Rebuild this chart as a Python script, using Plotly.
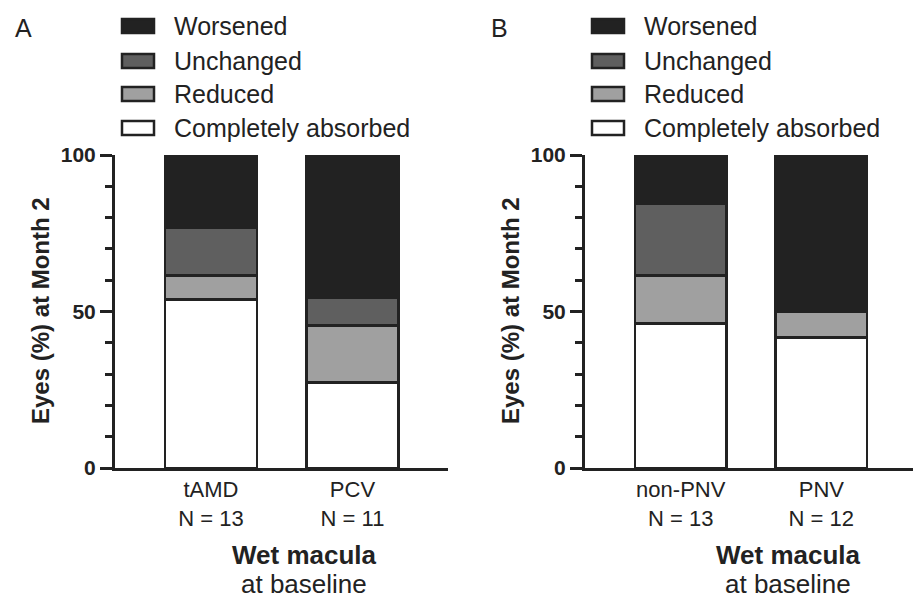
import plotly.graph_objects as go

# ---- data ----
series_names = ["Completely absorbed", "Reduced", "Unchanged", "Worsened"]
series_colors = ["#ffffff", "#a0a0a0", "#5f5f5f", "#222222"]

cats_a = ["tAMD<br>N = 13", "PCV<br>N = 11"]
absorbed_a = [53.8, 27.3]
reduced_a = [7.7, 18.2]
unchanged_a = [15.4, 9.1]
worsened_a = [23.1, 45.4]

cats_b = ["non-PNV<br>N = 13", "PNV<br>N = 12"]
absorbed_b = [46.2, 41.7]
reduced_b = [15.4, 8.3]
unchanged_b = [23.0, 0.0]
worsened_b = [15.4, 50.0]

y_ticks = [0, 50, 100]

W, H = 914, 606
def px(x):
    return x / W
def py(y):
    return 1 - y / H

FONT = "Liberation Sans, Arial, sans-serif"
INK = "#222222"

fig = go.Figure()

panels = [
    ("x", "y", [absorbed_a, reduced_a, unchanged_a, worsened_a]),
    ("x2", "y2", [absorbed_b, reduced_b, unchanged_b, worsened_b]),
]
for xa, ya, vals in panels:
    for name, color, v in zip(series_names, series_colors, vals):
        fig.add_trace(go.Bar(
            x=[0, 1], y=v, name=name, xaxis=xa, yaxis=ya,
            width=0.65, marker=dict(color=color, line=dict(color=INK, width=2.8)),
            showlegend=False,
        ))

ydom = [py(468), py(155)]
common_y = dict(range=[0, 100], tickvals=y_ticks, ticks="outside", ticklen=12,
                tickwidth=2.5, tickcolor=INK, showline=True, linewidth=3,
                linecolor=INK, showgrid=False, zeroline=False, automargin=False,
                tickfont=dict(family=FONT, size=21, color=INK, weight="bold"),
                minor=dict(dtick=10, ticks="outside", ticklen=7, tickwidth=2.5,
                           tickcolor=INK, showgrid=False),
                domain=ydom, fixedrange=True)
common_x = dict(showline=True, linewidth=3, linecolor=INK, ticks="",
                showgrid=False, zeroline=False, tickvals=[0, 1], automargin=False,
                tickfont=dict(family=FONT, size=22, color=INK))

fig.update_layout(
    template="none",
    width=W, height=H, margin=dict(l=0, r=0, t=0, b=0, pad=0, autoexpand=False),
    paper_bgcolor="white", plot_bgcolor="white", barmode="stack",
    showlegend=False,
    xaxis=dict(**common_x, domain=[px(115), px(448)], range=[-0.678, 1.675],
               ticktext=cats_a, anchor="y"),
    yaxis=dict(**common_y, anchor="x"),
    xaxis2=dict(**common_x, domain=[px(585), px(913)], range=[-0.681, 1.652],
                ticktext=cats_b, anchor="y2"),
    yaxis2=dict(**common_y, anchor="x2"),
)

# legends, titles, panel letters
row_y = [26, 61, 94, 128]
legend_order = list(zip(series_names, series_colors))[::-1]
for x0, letter, title_x, xcenter in [(0, "A", 13, 304), (470, "B", 489, 788)]:
    fig.add_annotation(x=px(title_x), y=py(28), xref="paper", yref="paper",
                       text=letter, showarrow=False, xanchor="left", yanchor="middle",
                       font=dict(family=FONT, size=25, color=INK))
    for (name, color), ry in zip(legend_order, row_y):
        fig.add_shape(type="rect", xref="paper", yref="paper",
                      x0=px(x0 + 122), x1=px(x0 + 154), y0=py(ry - 7), y1=py(ry + 7),
                      fillcolor=color, line=dict(color=INK, width=2.5))
        fig.add_annotation(x=px(x0 + 172), y=py(ry), xref="paper", yref="paper",
                           text=name, showarrow=False, xanchor="left", yanchor="middle",
                           font=dict(family=FONT, size=25, color=INK))
    fig.add_annotation(x=px(x0 + 40), y=py(311), xref="paper", yref="paper",
                       text="<b>Eyes (%) at Month 2</b>", textangle=-90, showarrow=False,
                       xanchor="center", yanchor="middle",
                       font=dict(family=FONT, size=24, color=INK))
    fig.add_annotation(x=px(xcenter), y=py(555), xref="paper", yref="paper",
                       text="<b>Wet macula</b>", showarrow=False,
                       xanchor="center", yanchor="middle",
                       font=dict(family=FONT, size=26, color=INK))
    fig.add_annotation(x=px(xcenter), y=py(584), xref="paper", yref="paper",
                       text="at baseline", showarrow=False,
                       xanchor="center", yanchor="middle",
                       font=dict(family=FONT, size=26, color=INK))

fig.write_html("out.html", config={"displayModeBar": False})

# remove the browser's default body margin so the figure sits at (0, 0)
with open("out.html", "r", encoding="utf-8") as f:
    html = f.read()
html = html.replace("<body>", '<body style="margin:0;padding:0;overflow:hidden">', 1)
with open("out.html", "w", encoding="utf-8") as f:
    f.write(html)
